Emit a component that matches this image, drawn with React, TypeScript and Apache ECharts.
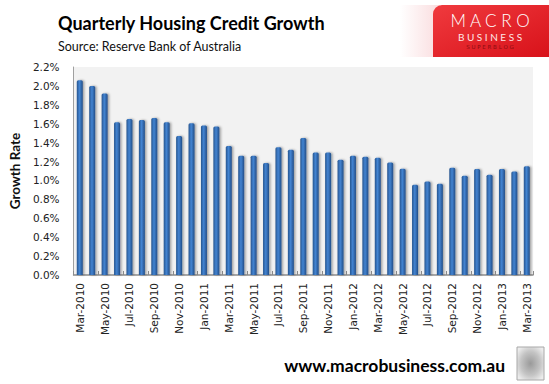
import React, { useEffect, useRef } from "react";
import * as echarts from "echarts";

const MONTHS = ["Jan", "Feb", "Mar", "Apr", "May", "Jun", "Jul", "Aug", "Sep", "Oct", "Nov", "Dec"];
const categories: string[] = [];
for (let y = 2010; y <= 2013; y++) {
  for (let m = 0; m < 12; m++) {
    if ((y === 2010 && m < 2) || (y === 2013 && m > 2)) continue;
    categories.push(`${MONTHS[m]}-${y}`);
  }
}

const growthValues = [
  2.06, 2.0, 1.92, 1.615, 1.65, 1.64, 1.66, 1.615, 1.47, 1.605,
  1.58, 1.57, 1.365, 1.26, 1.26, 1.185, 1.35, 1.325, 1.45, 1.295,
  1.295, 1.22, 1.26, 1.25, 1.24, 1.19, 1.125, 0.955, 0.99, 0.965,
  1.135, 1.05, 1.12, 1.06, 1.12, 1.095, 1.15,
];

const titleText = "Quarterly Housing Credit Growth";
const subtitleText = "Source: Reserve Bank of Australia";
const yAxisName = "Growth Rate";
const footerText = "www.macrobusiness.com.au";

export default function App() {
  const ref = useRef<HTMLDivElement>(null);
  useEffect(() => {
    if (!ref.current) return;
    const chart = echarts.init(ref.current, undefined, { renderer: "svg" });
    chart.setOption({
      animation: false,
      backgroundColor: "#ffffff",
      grid: {
        left: 67,
        top: 67,
        width: 466,
        height: 208,
        show: true,
        backgroundColor: "#f2f2f2",
        borderWidth: 0,
        containLabel: false,
      },
      xAxis: {
        type: "category",
        data: categories,
        boundaryGap: true,
        axisLine: { show: true, lineStyle: { color: "#8c8c8c", width: 1.5 } },
        axisTick: { show: true, inside: true, length: 4, interval: 1, lineStyle: { color: "#8c8c8c" } },
        axisLabel: {
          interval: 1,
          rotate: 90,
          margin: 8,
          fontFamily: "DejaVu Sans",
          fontSize: 10.5,
          color: "#222",
        },
      },
      yAxis: {
        type: "value",
        min: 0,
        max: 2.2,
        interval: 0.2,
        name: yAxisName,
        nameLocation: "middle",
        nameGap: 51,
        nameTextStyle: { fontFamily: "Lato", fontWeight: "bold", fontSize: 13.5, color: "#111" },
        axisLine: { show: true, lineStyle: { color: "#a0a0a0", width: 1 } },
        axisTick: { show: false },
        splitLine: { show: false },
        axisLabel: {
          margin: 14,
          fontFamily: "DejaVu Sans",
          fontSize: 10.5,
          color: "#222",
          formatter: (v: number) => v.toFixed(1) + "%",
        },
      },
      series: [
        {
          type: "bar",
          data: growthValues,
          barWidth: 6,
          itemStyle: {
            color: new echarts.graphic.LinearGradient(0, 0, 1, 0, [
              { offset: 0, color: "#26558f" },
              { offset: 0.45, color: "#4384d2" },
              { offset: 1, color: "#224e88" },
            ]),
            borderRadius: [1.5, 1.5, 0, 0],
            shadowColor: "rgba(0,0,0,0.35)",
            shadowBlur: 2,
            shadowOffsetX: 1.5,
            shadowOffsetY: 0,
          },
        },
      ],
      graphic: [
        {
          type: "text",
          left: 58,
          top: 14,
          style: { text: titleText, fontFamily: "Lato", fontWeight: "bold", fontSize: 18, fill: "#000" },
        },
        {
          type: "text",
          left: 58,
          top: 40,
          style: { text: subtitleText, fontFamily: "Lato", fontSize: 12.5, fill: "#111" },
        },
        {
          type: "rect",
          shape: { x: 400, y: 5, width: 40, height: 52 },
          style: {
            fill: new echarts.graphic.LinearGradient(0, 0, 1, 0, [
              { offset: 0, color: "rgba(255,255,255,1)" },
              { offset: 1, color: "rgba(250,220,222,1)" },
            ]),
          },
        },
        {
          type: "rect",
          shape: { x: 433, y: 5, width: 116, height: 52, r: [9, 0, 0, 0] },
          style: {
            fill: new echarts.graphic.LinearGradient(0, 0, 1, 1, [
              { offset: 0, color: "#f03a3e" },
              { offset: 1, color: "#d8121a" },
            ]),
          },
        },
        {
          type: "text",
          x: 490,
          y: 20,
          style: {
            text: "M A C R O",
            fontFamily: "Lato",
            fontSize: 17,
            fontWeight: 300,
            fill: "#ffffff",
            align: "center",
            verticalAlign: "middle",
          },
        },
        {
          type: "text",
          x: 490,
          y: 37,
          style: {
            text: "B U S I N E S S",
            fontFamily: "Lato",
            fontSize: 10,
            fontWeight: "normal",
            fill: "#ffe6e6",
            align: "center",
            verticalAlign: "middle",
          },
        },
        {
          type: "text",
          x: 490,
          y: 47,
          style: {
            text: "S U P E R B L O G",
            fontFamily: "DejaVu Sans",
            fontSize: 5.5,
            fill: "#8a0c10",
            align: "center",
            verticalAlign: "middle",
          },
        },
        {
          type: "text",
          right: 44,
          top: 356,
          style: { text: footerText, fontFamily: "Lato", fontWeight: "bold", fontSize: 17.5, fill: "#000" },
        },
        {
          type: "rect",
          shape: { x: 517, y: 347, width: 27, height: 33 },
          style: {
            fill: new echarts.graphic.RadialGradient(0.5, 0.5, 0.6, [
              { offset: 0, color: "#9a9a9a" },
              { offset: 0.6, color: "#c4c4c4" },
              { offset: 1, color: "#ececec" },
            ]),
            stroke: "#a8a8a8",
            lineWidth: 1,
          },
        },
      ],
    });
    return () => chart.dispose();
  }, []);
  return <div ref={ref} style={{ position: "fixed", left: 0, top: 0, width: 549, height: 384 }} />;
}
